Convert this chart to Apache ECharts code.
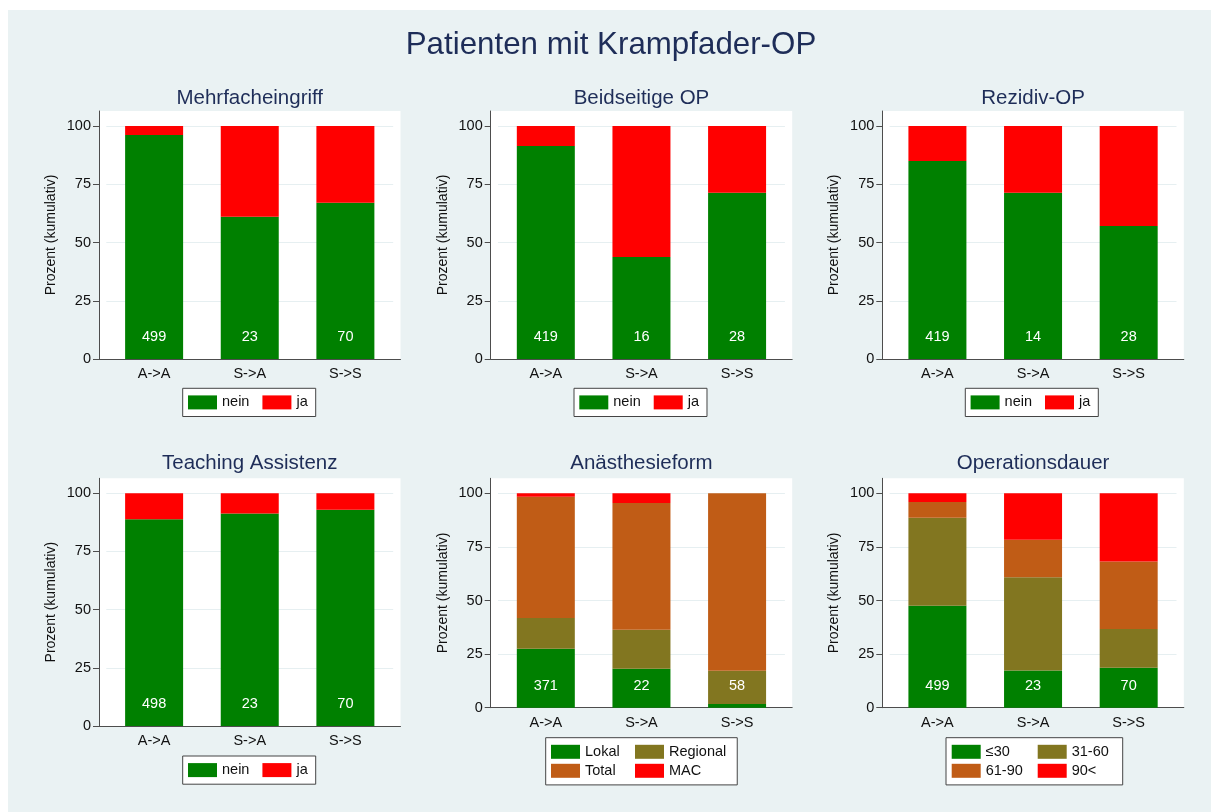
<!DOCTYPE html>
<html>
<head>
<meta charset="utf-8">
<title>Patienten mit Krampfader-OP</title>
<script src="https://cdn.jsdelivr.net/npm/echarts@6.0.0/dist/echarts.min.js"></script>
<style>
  html, body { margin: 0; padding: 0; background: #fff; }
  #main { position: absolute; left: 8px; top: 10px; width: 1203px; height: 802px; }
</style>
</head>
<body>
<div id="main"></div>
<script>
// Gruppen auf der x-Achse
var gruppen = ['A->A', 'S->A', 'S->S'];

// Prozentwerte (kumulativ gestapelt) und Fallzahlen
var mehrfachNein = [96.1, 61.0, 67.1];
var mehrfachJa   = [3.9, 39.0, 32.9];
var mehrfachN    = [499, 23, 70];

var beidseitigNein = [91.4, 43.8, 71.4];
var beidseitigJa   = [8.6, 56.2, 28.6];
var beidseitigN    = [419, 16, 28];

var rezidivNein = [85.0, 71.4, 57.1];
var rezidivJa   = [15.0, 28.6, 42.9];
var rezidivN    = [419, 14, 28];

var teachingNein = [88.8, 91.3, 92.9];
var teachingJa   = [11.2, 8.7, 7.1];
var teachingN    = [498, 23, 70];

var anaLokal    = [27.5, 18.2, 1.7];
var anaRegional = [14.3, 18.2, 15.5];
var anaTotal    = [56.6, 59.1, 82.8];
var anaMAC      = [1.6, 4.5, 0];
var anaN        = [371, 22, 58];

var dauerBis30  = [47.5, 17.4, 18.6];
var dauer31_60  = [41.1, 43.5, 18.1];
var dauer61_90  = [7.4, 17.4, 31.5];
var dauerUeber90 = [4.0, 21.7, 31.8];
var dauerN      = [499, 23, 70];

var gruen = '#008000', rot = '#ff0000', oliv = '#827620', orange = '#c05c16';

var panels = [
  { titel: 'Mehrfacheingriff', namen: ['nein', 'ja'], werte: [mehrfachNein, mehrfachJa], farben: [gruen, rot], n: mehrfachN },
  { titel: 'Beidseitige OP', namen: ['nein', 'ja'], werte: [beidseitigNein, beidseitigJa], farben: [gruen, rot], n: beidseitigN },
  { titel: 'Rezidiv-OP', namen: ['nein', 'ja'], werte: [rezidivNein, rezidivJa], farben: [gruen, rot], n: rezidivN },
  { titel: 'Teaching Assistenz', namen: ['nein', 'ja'], werte: [teachingNein, teachingJa], farben: [gruen, rot], n: teachingN },
  { titel: 'Anästhesieform', namen: ['Lokal', 'Regional', 'Total', 'MAC'], werte: [anaLokal, anaRegional, anaTotal, anaMAC], farben: [gruen, oliv, orange, rot], n: anaN },
  { titel: 'Operationsdauer', namen: ['≤30', '31-60', '61-90', '90<'], werte: [dauerBis30, dauer31_60, dauer61_90, dauerUeber90], farben: [gruen, oliv, orange, rot], n: dauerN }
];

// Layout (Pixel im Diagramm)
var spalteLinks = [91, 482.7, 874.3];
var breite = 301.5, einzug = 7.3;
var zeilen = [
  { oben: 101, innen: 116, unten: 349, titel: 78 },
  { oben: 101, innen: 116, unten: 349, titel: 78 },
  { oben: 101, innen: 116, unten: 349, titel: 78 },
  { oben: 468.3, innen: 483.3, unten: 716, titel: 443.3 },
  { oben: 468.3, innen: 483.3, unten: 697.7, titel: 443.3 },
  { oben: 468.3, innen: 483.3, unten: 697.7, titel: 443.3 }
];
var legendePos = [[174.7, 378.3], [566, 378.3], [957.3, 378.3], [174.7, 746], [537.7, 727.7], [938, 727.7]];

var textFarbe = '#111';
var achsenFarbe = '#4d4d4d';
var titelFarbe = '#1e2d58';
var schrift = 'Liberation Sans, Arial, sans-serif';

var grids = [], xAxes = [], yAxes = [], series = [], legends = [];
var titles = [{
  text: 'Patienten mit Krampfader-OP',
  left: 603, top: 20, textAlign: 'center', padding: 0,
  textStyle: { fontSize: 31.3, lineHeight: 31, fontWeight: 'normal', color: titelFarbe, fontFamily: schrift }
}];

panels.forEach(function (p, i) {
  var z = zeilen[i];
  var links = spalteLinks[i % 3];
  var ga = 2 * i, gi = 2 * i + 1;

  // äußerer Plotbereich: weißer Hintergrund und Achsenlinien
  grids.push({ left: links, top: z.oben, width: breite, height: z.unten - z.oben,
    show: true, backgroundColor: '#fff', borderWidth: 0, outerBoundsMode: 'none' });
  // innerer Bereich: Balken
  grids.push({ left: links + einzug, top: z.innen, width: breite - 2 * einzug, height: z.unten - z.innen,
    outerBoundsMode: 'none' });

  xAxes.push({ type: 'value', gridIndex: ga, min: 0, max: 1,
    axisLine: { show: true, onZero: false, lineStyle: { color: achsenFarbe, width: 1 } },
    axisTick: { show: false }, axisLabel: { show: false }, splitLine: { show: false } });
  xAxes.push({ type: 'category', gridIndex: gi, data: gruppen,
    axisLine: { show: false }, axisTick: { show: false },
    axisLabel: { margin: 8, fontSize: 14.5, lineHeight: 14, color: textFarbe, fontFamily: schrift } });

  yAxes.push({ type: 'value', gridIndex: ga, min: 0, max: 1,
    name: 'Prozent (kumulativ)', nameLocation: 'middle', nameGap: 41,
    nameTextStyle: { fontSize: 14, color: textFarbe, fontFamily: schrift },
    axisLine: { show: true, onZero: false, lineStyle: { color: achsenFarbe, width: 1 } },
    axisTick: { show: false }, axisLabel: { show: false }, splitLine: { show: false } });
  yAxes.push({ type: 'value', gridIndex: gi, min: 0, max: 100, interval: 25, offset: einzug,
    axisLine: { show: false },
    axisTick: { show: true, length: 6, lineStyle: { color: achsenFarbe } },
    axisLabel: { margin: 8, fontSize: 14.5, color: textFarbe, fontFamily: schrift },
    splitLine: { show: true, lineStyle: { color: '#e6eff1', width: 1 } } });

  p.namen.forEach(function (name, j) {
    var s = {
      name: name, type: 'bar', stack: 'p' + i,
      xAxisIndex: gi, yAxisIndex: gi,
      data: p.werte[j], barWidth: 58,
      itemStyle: { color: p.farben[j] },
      emphasis: { disabled: true }
    };
    if (j === 0) {
      s.label = { show: true, position: 'insideBottom', distance: 15,
        color: '#fff', fontSize: 14.5, lineHeight: 14, fontFamily: schrift,
        formatter: function (d) { return p.n[d.dataIndex]; } };
    }
    series.push(s);
  });

  titles.push({ text: p.titel, left: links + breite / 2, top: z.titel, textAlign: 'center', padding: 0,
    textStyle: { fontSize: 20.5, lineHeight: 20, fontWeight: 'normal', color: titelFarbe, fontFamily: schrift } });

  var vier = p.namen.length === 4;
  var leg = {
    data: p.namen, left: legendePos[i][0], top: legendePos[i][1],
    orient: 'horizontal', icon: 'rect', itemWidth: 29, itemHeight: 14,
    backgroundColor: '#fff', borderColor: '#444', borderWidth: 1, borderRadius: 0,
    selectedMode: false,
    textStyle: { fontSize: 14.5, lineHeight: 14, color: textFarbe, fontFamily: schrift }
  };
  if (vier) {
    var tw = i === 4 ? 46 : 48;
    leg.itemGap = 4;
    leg.width = i === 4 ? 178 : 2 * (29 + 5 + tw) + 4 + 3;
    leg.textStyle.width = tw;
    leg.textStyle.overflow = 'none';
    leg.padding = i === 4 ? [6.6, 11, 6.6, 5.3] : [6.6, 3, 6.6, 5.7];
  } else {
    leg.itemGap = 13;
    leg.padding = [6.6, 8, 6.6, 5.3];
  }
  legends.push(leg);
});

var chart = echarts.init(document.getElementById('main'));
chart.setOption({
  backgroundColor: '#eaf2f3',
  animation: false,
  title: titles,
  grid: grids,
  xAxis: xAxes,
  yAxis: yAxes,
  legend: legends,
  series: series
});
</script>
</body>
</html>
